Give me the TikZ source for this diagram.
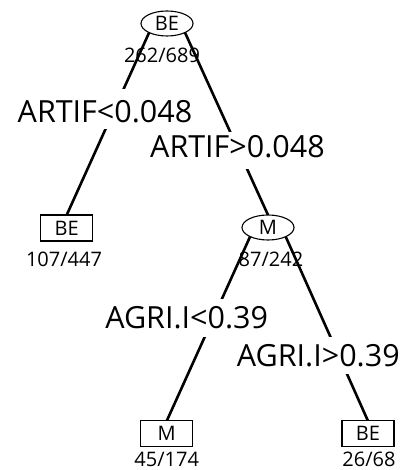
\documentclass[tikz,border=0pt]{standalone}
\usepackage{fontspec}
\setmainfont{Open Sans}
\usetikzlibrary{shapes.geometric}
\tikzset{
  branch/.style={line width=2.6pt, line cap=round, shorten <=43.5pt},
  splitnode/.style={ellipse, draw, line width=1.1pt, fill=white, minimum width=52pt, minimum height=25pt, inner sep=0pt, font=\fontsize{20}{22}\selectfont},
  leafnode/.style={rectangle, draw, line width=1.1pt, fill=white, minimum width=52pt, minimum height=26pt, inner sep=0pt, font=\fontsize{20}{22}\selectfont},
  countlbl/.style={anchor=base, inner sep=0pt, font=\fontsize{20}{22}\selectfont},
  rulelbl/.style={anchor=base, inner sep=0pt, fill=white, font=\fontsize{30.5}{33}\selectfont}
}
\begin{document}
\begin{tikzpicture}[x=1pt, y=-1pt]
\useasboundingbox (0,0) rectangle (403,470);
% node positions
\coordinate (rootc) at (167,23.5);
\coordinate (mc) at (268,227.5);
\coordinate (rootapex) at (167,-7);
\coordinate (mapex) at (268,197);
\coordinate (be1top) at (66.7,215);
\coordinate (mtop) at (268,215);
\coordinate (m2top) at (166.7,421);
\coordinate (be3top) at (368,421);
% branches
\draw[branch] (rootapex) -- (be1top);
\draw[branch] (rootapex) -- (mtop);
\draw[branch] (mapex) -- (m2top);
\draw[branch] (mapex) -- (be3top);
% nodes
\node[splitnode] (root) at (rootc) {BE};
\node[leafnode] (be1) at (66.7,228) {BE};
\node[splitnode] (m) at (mc) {M};
\node[leafnode] (m2) at (166.7,433.5) {M};
\node[leafnode] (be3) at (368,433.5) {BE};
% split labels
\node[rulelbl, text height=33.4pt, text depth=6.6pt] (l1) at (105,122.7) {ARTIF<0.048};
\node[rulelbl, text height=25.6pt, text depth=12pt] (r1) at (237.5,157.3) {ARTIF>0.048};
\node[rulelbl, text height=29pt, text depth=8.4pt] (l2) at (186.7,328.3) {AGRI.I<0.39};
\node[rulelbl, text height=30pt, text depth=7.3pt] (r2) at (318.3,366.7) {AGRI.I>0.39};
% counts
\node[countlbl] (c0) at (162,63) {262/689};
\node[countlbl] (c1) at (64,266) {107/447};
\node[countlbl] (c2) at (271,266) {87/242};
\node[countlbl] (c3) at (166.7,466) {45/174};
\node[countlbl] (c4) at (369,466) {26/68};
\end{tikzpicture}
\end{document}
